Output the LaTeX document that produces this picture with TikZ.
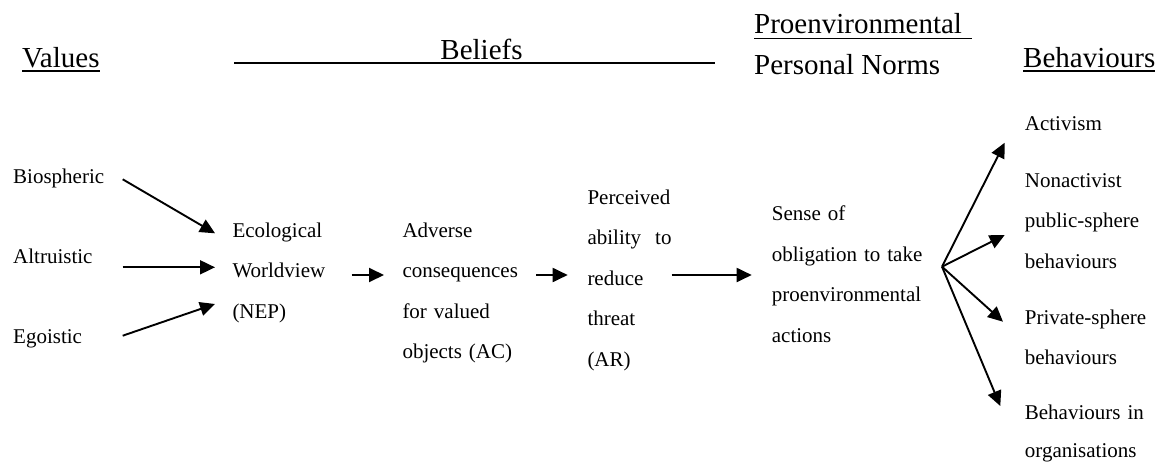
\documentclass[tikz,border=0pt]{standalone}
\usepackage{fontspec}
\setmainfont{Liberation Serif}
\usetikzlibrary{arrows.meta}
\begin{document}
\begin{tikzpicture}[x=1pt,y=-1pt,
  body/.style={font=\fontsize{21}{40.5}\selectfont, inner sep=0pt, anchor=base west, align=left},
  head/.style={font=\fontsize{29}{35}\selectfont, inner sep=0pt, anchor=base west},
  arr/.style={line width=1.9pt, -{Triangle[length=15pt,width=14pt]}},
  rulel/.style={line width=1.9pt}]
\useasboundingbox (0,0) rectangle (1163,461);
% headers
\node[head] (values) at (22,67.3) {Values};
\draw[rulel] ([yshift=-3.4pt]values.base west) -- ([yshift=-3.4pt]values.base east);
\node[head,anchor=base] (beliefs) at (481.5,59) {Beliefs};
\coordinate (bl) at (234,62.7);
\coordinate (br) at (715,62.7);
\draw[rulel] (bl) -- (br);
\node[head] (proenv) at (754,33) {Proenvironmental};
\draw[rulel] ([yshift=-5.5pt]proenv.base west) -- ++(218,0);
\node[head] (norms) at (754,74) {Personal Norms};
\node[head] (behav) at (1023,67.8) {Behaviours};
\draw[rulel] ([yshift=-3.4pt]behav.base west) -- ([yshift=-3.4pt]behav.base east);
% text blocks
\node[body,text width=100pt] (bio) at (13,183) {Biospheric};
\node[body,text width=100pt] (alt) at (13,263) {Altruistic};
\node[body,text width=100pt] (ego) at (13,343) {Egoistic};
\node[body,text width=110pt] (nep) at (232.3,237.3) {Ecological\\Worldview\\(NEP)};
\node[body,text width=130pt] (ac) at (402.3,237.3) {Adverse\\consequences\\for valued\\objects (AC)};
\node[body,text width=90pt] (ar) at (587.3,204) {Perceived\\\makebox[84pt][l]{ability\hfill to}\\reduce\\threat\\(AR)};
\node[body,text width=160pt] (sense) at (771.7,220.7) {Sense of\\obligation to take\\proenvironmental\\actions};
\node[body,text width=140pt] (act) at (1024.7,130) {Activism};
\node[body,text width=140pt] (pub) at (1024.7,187.3) {Nonactivist\\public-sphere\\behaviours};
\node[body,text width=140pt] (priv) at (1024.7,324) {Private-sphere\\behaviours};
\node[body,text width=140pt,font=\fontsize{21}{38}\selectfont] (org) at (1024.7,419.5) {Behaviours in\\organisations};
% connector ends
\coordinate (bioE) at (122.7,179.3);
\coordinate (nepA) at (215,233.3);
\coordinate (altE) at (122.7,267.3);
\coordinate (nepB) at (215,267.3);
\coordinate (egoE) at (122.7,335.7);
\coordinate (nepC) at (215,304);
\coordinate (nepE) at (351.7,275);
\coordinate (acW) at (384,275);
\coordinate (acE) at (536,275);
\coordinate (arW) at (567.7,275);
\coordinate (arE) at (671.7,275);
\coordinate (senseW) at (751.7,275);
\coordinate (fan) at (942,266.7);
\coordinate (actT) at (1004.7,142.7);
\coordinate (pubT) at (1004.7,235);
\coordinate (privT) at (1003,321.7);
\coordinate (orgT) at (1000.3,406);
% arrows
\draw[arr] (bioE) -- (nepA);
\draw[arr] (altE) -- (nepB);
\draw[arr] (egoE) -- (nepC);
\draw[arr] (nepE) -- (acW);
\draw[arr] (acE) -- (arW);
\draw[arr] (arE) -- (senseW);
\draw[arr] (fan) -- (actT);
\draw[arr] (fan) -- (pubT);
\draw[arr] (fan) -- (privT);
\draw[arr] (fan) -- (orgT);
\end{tikzpicture}
\end{document}
